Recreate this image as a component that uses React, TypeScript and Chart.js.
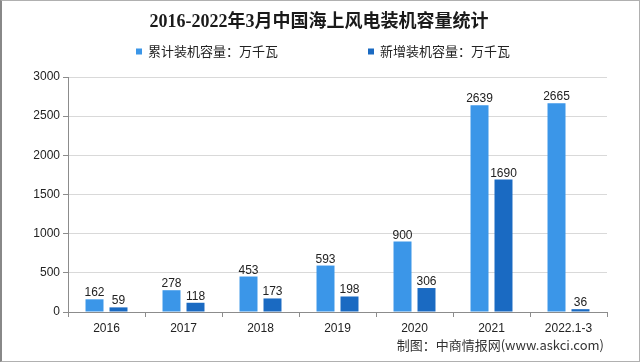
import React, { useEffect, useRef } from "react";
import { Chart, registerables } from "chart.js";

Chart.register(...registerables);

const titleText = "2016-2022年3月中国海上风电装机容量统计";
const sourceText = "制图：中商情报网(www.askci.com)";
const categories = ["2016", "2017", "2018", "2019", "2020", "2021", "2022.1-3"];
const cumulativeLabel = "累计装机容量：万千瓦";
const addedLabel = "新增装机容量：万千瓦";
const cumulativeValues = [162, 278, 453, 593, 900, 2639, 2665];
const addedValues = [59, 118, 173, 198, 306, 1690, 36];
const yTicks = [0, 500, 1000, 1500, 2000, 2500, 3000];

const LIGHT = "#3b96e8";
const DARK = "#1a6ac2";
const AXIS = "#8c8c8c";
const NUM_FONT = "12px 'Liberation Sans', Arial, sans-serif";

const decorPlugin = {
  id: "decor",
  afterDraw(chart: any) {
    const ctx = chart.ctx;
    ctx.save();
    // title
    ctx.fillStyle = "#1a1a1a";
    ctx.font = "bold 18px 'Liberation Serif', 'Noto Sans CJK SC', serif";
    ctx.textAlign = "center";
    ctx.textBaseline = "middle";
    ctx.fillText(titleText, 319, 22);

    // legend
    ctx.font = "13px 'Noto Sans CJK SC', sans-serif";
    ctx.textAlign = "left";
    const box = 6;
    const gapText = 6;
    const gapItems = 90;
    const items = chart.data.datasets.map((d: any) => ({
      label: d.label,
      color: d.backgroundColor,
      w: box + gapText + ctx.measureText(d.label).width,
    }));
    const total = items.reduce((s: number, it: any) => s + it.w, 0) + gapItems * (items.length - 1);
    let x = 323 - total / 2;
    const ly = 51.5;
    items.forEach((it: any) => {
      ctx.fillStyle = it.color;
      ctx.fillRect(x, ly - box / 2, box, box);
      ctx.fillStyle = "#222";
      ctx.fillText(it.label, x + box + gapText, ly);
      x += it.w + gapItems;
    });

    // source
    ctx.font = "13px 'Noto Sans CJK SC', 'Liberation Sans', sans-serif";
    ctx.fillStyle = "#333";
    ctx.textAlign = "right";
    ctx.fillText(sourceText, 604, 345);
    ctx.restore();
  },
};

const valueLabelPlugin = {
  id: "valueLabels",
  afterDatasetsDraw(chart: any) {
    const ctx = chart.ctx;
    ctx.save();
    ctx.font = NUM_FONT;
    ctx.fillStyle = "#222";
    ctx.textAlign = "center";
    ctx.textBaseline = "alphabetic";
    chart.data.datasets.forEach((ds: any, di: number) => {
      const meta = chart.getDatasetMeta(di);
      meta.data.forEach((el: any, i: number) => {
        ctx.fillText(String(ds.data[i]), el.x, el.y - 3);
      });
    });
    ctx.restore();
  },
};

export default function App() {
  const ref = useRef<HTMLCanvasElement | null>(null);
  useEffect(() => {
    if (!ref.current) return;
    const chart = new Chart(ref.current, {
      type: "bar",
      data: {
        labels: categories,
        datasets: [
          {
            label: cumulativeLabel,
            data: cumulativeValues,
            backgroundColor: LIGHT,
            categoryPercentage: 0.623,
            barPercentage: 0.75,
          },
          {
            label: addedLabel,
            data: addedValues,
            backgroundColor: DARK,
            categoryPercentage: 0.623,
            barPercentage: 0.75,
          },
        ],
      },
      options: {
        responsive: false,
        animation: false,
        layout: { padding: { top: 77, right: 33, bottom: 0, left: 0 } },
        plugins: {
          legend: { display: false },
          title: { display: false },
          tooltip: { enabled: false },
        },
        scales: {
          x: {
            offset: true,
            grid: {
              display: true,
              drawOnChartArea: false,
              drawTicks: true,
              tickLength: 5,
              tickColor: AXIS,
              offset: true,
            },
            border: { display: true, color: AXIS },
            ticks: {
              color: "#222",
              font: { family: "'Liberation Sans', Arial, sans-serif", size: 12 },
              padding: 4,
              maxRotation: 0,
              autoSkip: false,
            },
            afterFit(scale: any) {
              scale.height = 50;
            },
          },
          y: {
            min: 0,
            max: 3000,
            afterBuildTicks(scale: any) {
              scale.ticks = yTicks.map((v) => ({ value: v }));
            },
            grid: {
              color: "#d9d9d9",
              tickColor: AXIS,
              tickLength: 5,
              drawTicks: true,
            },
            border: { display: true, color: AXIS },
            ticks: {
              color: "#222",
              font: { family: "'Liberation Sans', Arial, sans-serif", size: 12 },
              padding: 3,
              callback: (v: any) => String(v),
            },
            afterFit(scale: any) {
              scale.width = 68;
            },
          },
        },
      },
      plugins: [valueLabelPlugin, decorPlugin],
    });
    return () => chart.destroy();
  }, []);

  return (
    <div style={{ position: "fixed", left: 0, top: 0, width: 640, height: 362, background: "#fff" }}>
      <canvas ref={ref} width={640} height={362} style={{ display: "block" }} />
      <div
        style={{
          position: "absolute",
          left: 0,
          top: 0,
          width: 640,
          height: 362,
          boxSizing: "border-box",
          border: "1px solid #b0b0b0",
          borderLeft: "2px solid #888",
          pointerEvents: "none",
        }}
      />
    </div>
  );
}
